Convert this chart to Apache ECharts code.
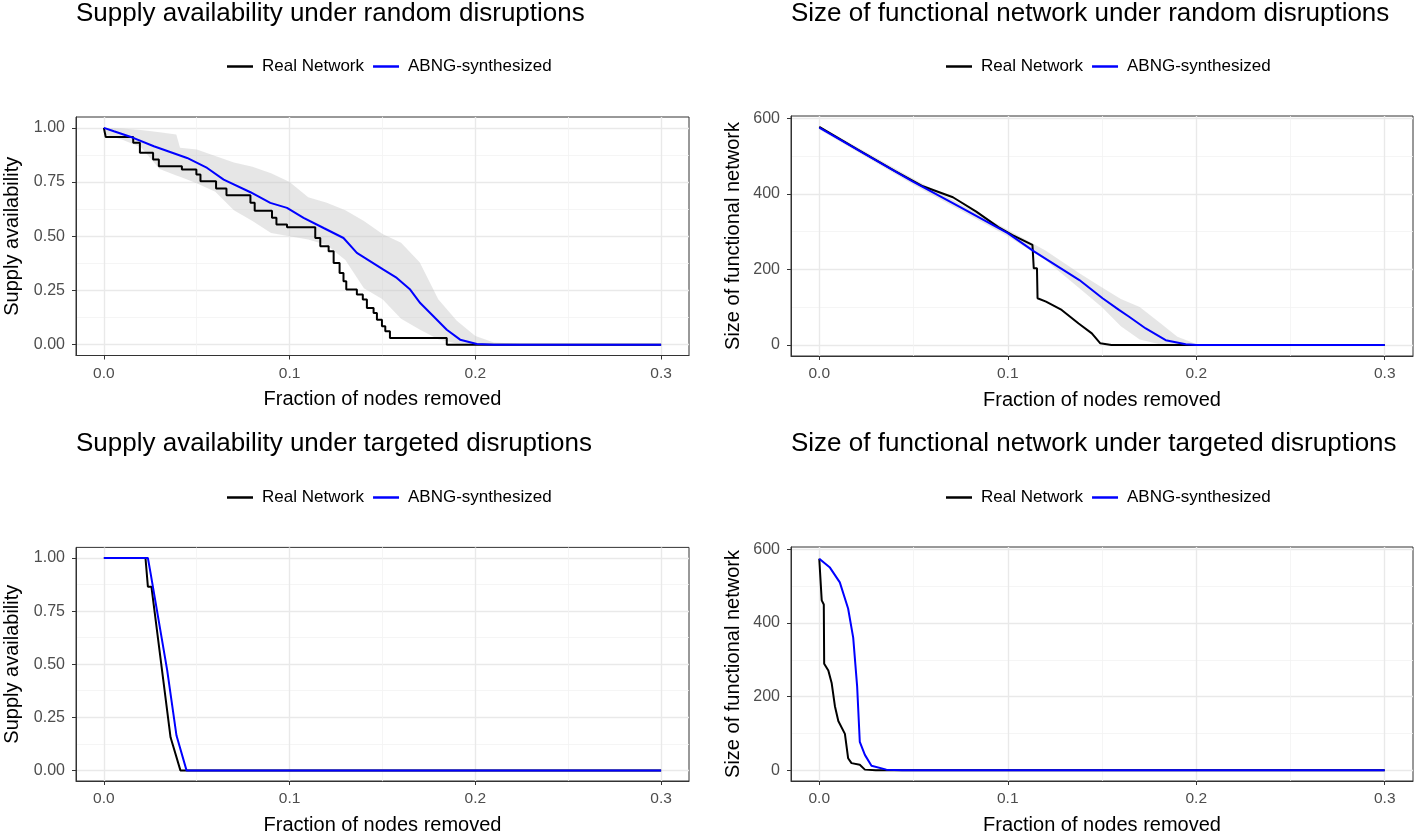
<!DOCTYPE html>
<html><head><meta charset="utf-8">
<script src="https://cdn.jsdelivr.net/npm/echarts@6/dist/echarts.min.js"></script>
<style>html,body{margin:0;padding:0;background:#fff}#c{width:1415px;height:836px}</style>
</head><body><div id="c"></div>
<script>
// ---------------- DATA ----------------
const seriesNames = ['Real Network', 'ABNG-synthesized'];
const panelTitles = [
  'Supply availability under random disruptions',
  'Size of functional network under random disruptions',
  'Supply availability under targeted disruptions',
  'Size of functional network under targeted disruptions'
];
const xTitle = 'Fraction of nodes removed';
const yTitleSupply = 'Supply availability';
const yTitleSize = 'Size of functional network';
const xTicks = [0, 0.1, 0.2, 0.3];
const xMinor = [0.05, 0.15, 0.25];
const supplyTicks = [0, 0.25, 0.5, 0.75, 1];
const supplyMinor = [0.125, 0.375, 0.625, 0.875];
const sizeTicks = [0, 200, 400, 600];
const sizeMinor = [100, 300, 500];

// Panel 1: supply availability, random
const p1RealF = [0,0.001,0.0158,0.0194,0.0265,0.0296,0.042,0.0498,0.052,0.0604,0.066,0.0789,0.0812,0.0905,0.0929,0.0986,0.1138,0.1165,0.121,0.1237,0.1269,0.129,0.1305,0.1362,0.1394,0.1416,0.1452,0.147,0.1497,0.1515,0.154,0.1846,0.3];
const p1RealV = [1,0.958,0.931,0.885,0.854,0.823,0.808,0.785,0.754,0.72,0.689,0.654,0.618,0.585,0.554,0.541,0.492,0.454,0.431,0.377,0.331,0.292,0.254,0.231,0.208,0.169,0.146,0.115,0.085,0.062,0.031,0,0];
const p1AbngF = [0,0.0054,0.0158,0.0269,0.0448,0.0556,0.0645,0.0789,0.0896,0.0986,0.1075,0.1183,0.129,0.1362,0.1505,0.1577,0.1649,0.1703,0.1774,0.1846,0.1918,0.2008,0.21,0.3];
const p1AbngV = [1,0.984,0.954,0.915,0.861,0.815,0.761,0.703,0.654,0.631,0.585,0.538,0.492,0.423,0.346,0.308,0.254,0.192,0.131,0.069,0.023,0.003,0,0];
const p1BandF = [0,0.01,0.02,0.03,0.039,0.041,0.05,0.06,0.07,0.08,0.09,0.1,0.11,0.12,0.13,0.14,0.15,0.16,0.17,0.18,0.19,0.2,0.21,0.22,0.23];
const p1BandLo = [0.97,0.945,0.91,0.81,0.78,0.775,0.745,0.705,0.62,0.57,0.515,0.5,0.485,0.46,0.39,0.26,0.21,0.12,0.07,0.025,0.005,0,0,0,0];
const p1BandHi = [1,0.997,0.99,0.98,0.969,0.908,0.9,0.87,0.84,0.82,0.79,0.75,0.68,0.655,0.62,0.57,0.51,0.47,0.38,0.21,0.11,0.04,0.01,0.005,0];

// Panel 2: size of functional network, random
const p2RealF = [0,0.02,0.04,0.055,0.0709,0.0833,0.095,0.1025,0.1131,0.1138,0.1138,0.1155,0.1158,0.1203,0.1286,0.1376,0.1446,0.149,0.155,0.3];
const p2RealV = [577,518,461,420,391,353,312,291,265,262,203,203,124,115,93,57,31,5,0,0];
const p2AbngF = [0,0.025,0.0497,0.075,0.1,0.1141,0.138,0.1503,0.159,0.1644,0.1732,0.1838,0.1944,0.2,0.3];
const p2AbngV = [575,503,432,364,296,247,172,124,93,75,44,13,2,0,0];
const p2BandF = [0,0.05,0.1,0.12,0.138,0.15,0.16,0.17,0.18,0.19,0.2];
const p2BandLo = [570,424,288,225,150,100,50,15,3,0,0];
const p2BandHi = [580,440,305,250,190,152,122,101,62,22,3];

// Panel 3: supply availability, targeted
const p3RealF = [0,0.0224,0.0237,0.0256,0.0359,0.0412,0.3];
const p3RealV = [1,1,0.865,0.865,0.156,0,0];
const p3AbngF = [0,0.0237,0.0251,0.0341,0.0391,0.0445,0.3];
const p3AbngV = [1,1,0.931,0.471,0.164,0,0];

// Panel 4: size of functional network, targeted
const p4RealF = [0,0.0013,0.0024,0.0026,0.0048,0.0066,0.0083,0.0101,0.0136,0.0153,0.0171,0.0215,0.0242,0.03,0.3];
const p4RealV = [574,461,450,289,271,236,174,134,99,33,19.6,15,2,0,0];
const p4AbngF = [0,0.00566,0.0109,0.0153,0.018,0.0201,0.0215,0.0242,0.0277,0.0356,0.044,0.3];
const p4AbngV = [574,550,510,439,360,227,77,42,12.5,2,0,0];

// ---------------- BUILD ----------------
const zip = (a, b) => a.map((x, i) => [x, b[i]]);
const FONT = 'Liberation Sans';
const panels = [
  {title: panelTitles[0], yName: yTitleSupply, kind: 'supply', grid: {left: 76, top: 117, width: 613, height: 238.5},
   tTop: 1, lLeft: 227, lTop: 58, real: zip(p1RealF, p1RealV), step: true, abng: zip(p1AbngF, p1AbngV),
   band: {f: p1BandF, lo: p1BandLo, hi: p1BandHi}, yGap: 54},
  {title: panelTitles[1], yName: yTitleSize, kind: 'size', grid: {left: 791, top: 116, width: 622, height: 240},
   tTop: 1, lLeft: 946, lTop: 58, real: zip(p2RealF, p2RealV), step: false, abng: zip(p2AbngF, p2AbngV),
   band: {f: p2BandF, lo: p2BandLo, hi: p2BandHi}, yGap: 48},
  {title: panelTitles[2], yName: yTitleSupply, kind: 'supply', grid: {left: 76, top: 547.4, width: 613, height: 239},
   tTop: 431, lLeft: 227, lTop: 489, real: zip(p3RealF, p3RealV), step: false, abng: zip(p3AbngF, p3AbngV),
   band: null, yGap: 54},
  {title: panelTitles[3], yName: yTitleSize, kind: 'size', grid: {left: 791, top: 547, width: 622, height: 239.6},
   tTop: 431, lLeft: 946, lTop: 489, real: zip(p4RealF, p4RealV), step: false, abng: zip(p4AbngF, p4AbngV),
   band: null, yGap: 48}
];

const option = {
  animation: false,
  backgroundColor: '#fff',
  textStyle: {fontFamily: FONT},
  title: [], legend: [], grid: [], xAxis: [], yAxis: [], series: []
};

panels.forEach((p, i) => {
  const sup = p.kind === 'supply';
  const yMin = sup ? -0.05 : -28.85;
  const yMax = sup ? 1.05 : 605.85;
  const yT = sup ? supplyTicks : sizeTicks;
  const yM = sup ? supplyMinor : sizeMinor;
  option.grid.push(Object.assign({show: true, borderColor: '#333', borderWidth: 1, backgroundColor: 'transparent', containLabel: false}, p.grid));
  option.title.push({text: p.title, left: p.grid.left, top: p.tTop, padding: 0,
    textStyle: {fontFamily: FONT, fontSize: 26, fontWeight: 'normal', color: '#000'}});
  option.legend.push({data: seriesNames, left: p.lLeft, top: p.lTop, icon: 'rect', itemWidth: 26, itemHeight: 2.5,
    itemGap: 9, padding: 0, textStyle: {fontFamily: FONT, fontSize: 17, color: '#000', padding: [0, 0, 0, 4]}});
  const xi = option.xAxis.length, yi = option.yAxis.length;
  // major axes
  option.xAxis.push({type: 'value', gridIndex: i, min: -0.015, max: 0.315,
    name: xTitle, nameLocation: 'middle', nameGap: 34,
    nameTextStyle: {fontFamily: FONT, fontSize: 20, color: '#000'},
    axisLine: {show: true, onZero: false, lineStyle: {color: '#333', width: 1}},
    axisTick: {show: true, length: 4, customValues: xTicks, lineStyle: {color: '#333', width: 1}},
    axisLabel: {customValues: xTicks, formatter: v => v.toFixed(1), color: '#4d4d4d', fontSize: 15.5, margin: 10, fontFamily: FONT},
    splitLine: {show: true, lineStyle: {color: '#e9e9e9', width: 1.4}}});
  option.yAxis.push({type: 'value', gridIndex: i, min: yMin, max: yMax,
    name: p.yName, nameLocation: 'middle', nameGap: p.yGap,
    nameTextStyle: {fontFamily: FONT, fontSize: 20, color: '#000'},
    axisLine: {show: true, onZero: false, lineStyle: {color: '#333', width: 1}},
    axisTick: {show: true, length: 4, customValues: yT, lineStyle: {color: '#333', width: 1}},
    axisLabel: {customValues: yT, formatter: v => sup ? v.toFixed(2) : String(Math.round(v)), color: '#4d4d4d', fontSize: 16, margin: 11, fontFamily: FONT},
    splitLine: {show: true, lineStyle: {color: '#e9e9e9', width: 1.4}}});
  // minor grid axes
  option.xAxis.push({type: 'value', gridIndex: i, min: -0.015, max: 0.315, position: 'bottom',
    axisLine: {show: false}, axisTick: {show: false, customValues: xMinor}, axisLabel: {show: false, customValues: xMinor},
    splitLine: {show: true, lineStyle: {color: '#f3f3f3', width: 0.8}}});
  option.yAxis.push({type: 'value', gridIndex: i, min: yMin, max: yMax, position: 'left',
    axisLine: {show: false}, axisTick: {show: false, customValues: yM}, axisLabel: {show: false, customValues: yM},
    splitLine: {show: true, lineStyle: {color: '#f3f3f3', width: 0.8}}});

  if (p.band) {
    const b = p.band;
    option.series.push({type: 'custom', xAxisIndex: xi, yAxisIndex: yi, silent: true, z: 1,
      data: b.f.map((x, k) => [x, b.lo[k], b.hi[k]]),
      encode: {x: 0, y: [1, 2]},
      renderItem: (params, api) => {
        if (params.dataIndex !== 0) return null;
        const pts = [];
        for (let k = 0; k < b.f.length; k++) pts.push(api.coord([b.f[k], b.hi[k]]));
        for (let k = b.f.length - 1; k >= 0; k--) pts.push(api.coord([b.f[k], b.lo[k]]));
        return {type: 'polygon', shape: {points: pts}, style: {fill: 'rgba(195,195,195,0.42)'}};
      }});
  }
  option.series.push({type: 'line', name: seriesNames[0], xAxisIndex: xi, yAxisIndex: yi, data: p.real,
    step: p.step ? 'end' : false, symbol: 'none', color: '#000', lineStyle: {color: '#000', width: 2}, z: 3});
  option.series.push({type: 'line', name: seriesNames[1], xAxisIndex: xi, yAxisIndex: yi, data: p.abng,
    symbol: 'none', color: '#0000ff', lineStyle: {color: '#0000ff', width: 2}, z: 4});
});

const chart = echarts.init(document.getElementById('c'), null, {renderer: 'canvas'});
chart.setOption(option);
</script></body></html>
